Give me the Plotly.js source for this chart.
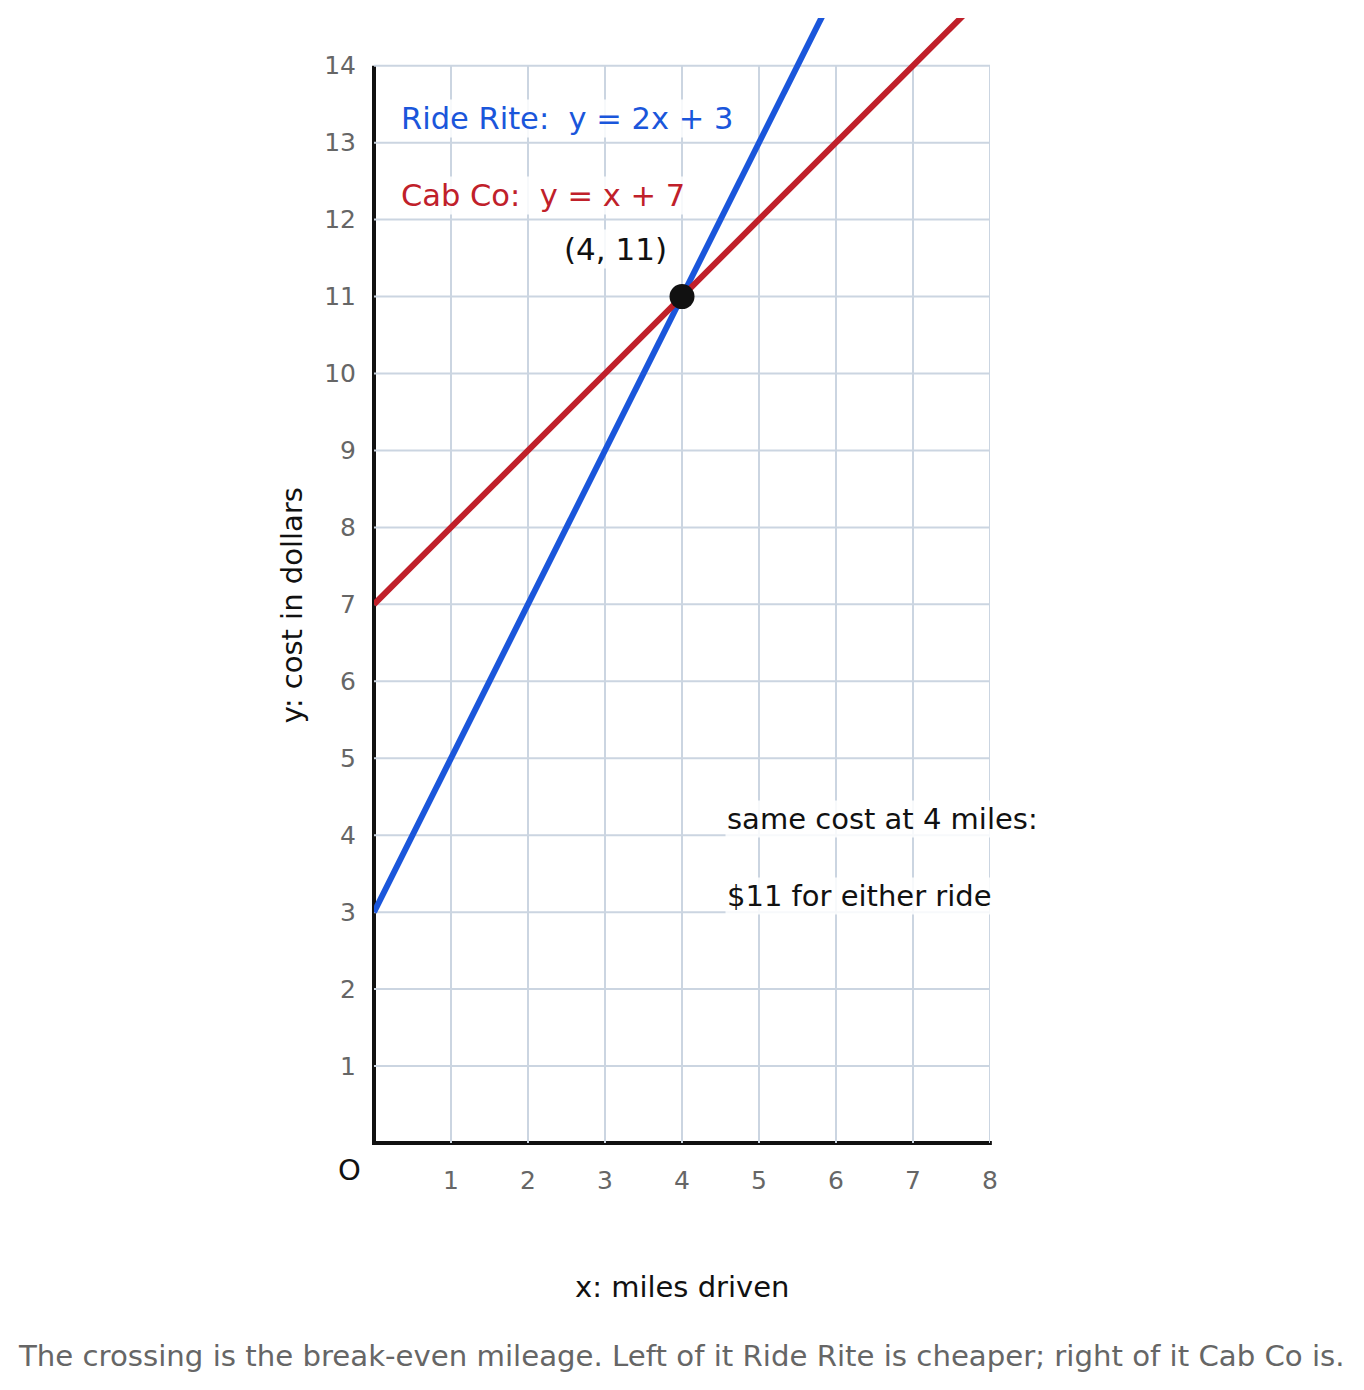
<!DOCTYPE html>
<html>
<head>
<meta charset="utf-8">
<script src="https://cdn.plot.ly/plotly-3.0.1.min.js"></script>
<style>html,body{margin:0;padding:0;background:#fff;}</style>
</head>
<body>
<div id="chart" style="width:1364px;height:1390px;"></div>
<script>
// Data
const rideRiteX = [0, 6];
const rideRiteY = [3, 15];      // y = 2x + 3
const cabCoX = [0, 8];
const cabCoY = [7, 15];         // y = x + 7
const crossX = [4];
const crossY = [11];
const xTicks = [1, 2, 3, 4, 5, 6, 7, 8];
const yTicks = [1, 2, 3, 4, 5, 6, 7, 8, 9, 10, 11, 12, 13, 14];
const xMax = 8, yMax = 14, yTop = 14.62;

const FONT = 'DejaVu Sans, sans-serif';
const BLUE = '#1a56db';
const RED = '#c0202a';
const GRID = '#cbd5e1';
const NB = '\u00a0';

const shapes = [];
xTicks.forEach(v => shapes.push({type:'line', xref:'x', yref:'y', x0:v, x1:v, y0:0, y1:yMax, line:{color:GRID, width:2}, layer:'below'}));
yTicks.forEach(v => shapes.push({type:'line', xref:'x', yref:'y', x0:0, x1:xMax, y0:v, y1:v, line:{color:GRID, width:2}, layer:'below'}));
// axis lines (paper refs so they are not clipped)
shapes.push({type:'line', xref:'paper', yref:'paper', x0:-0.003, x1:1.003, y0:0, y1:0, line:{color:'#111', width:4}, layer:'below'});
shapes.push({type:'line', xref:'paper', yref:'paper', x0:0, x1:0, y0:-0.0018, y1:yMax / yTop, line:{color:'#111', width:4}, layer:'below'});

const traces = [
  {x: rideRiteX, y: rideRiteY, mode:'lines', line:{color:BLUE, width:6}, hoverinfo:'skip'},
  {x: cabCoX, y: cabCoY, mode:'lines', line:{color:RED, width:6}, hoverinfo:'skip'},
  {x: crossX, y: crossY, mode:'markers', marker:{color:'#111', size:25}, hoverinfo:'skip', cliponaxis:false}
];

const bg = 'rgba(255,255,255,0.85)';
const F = 29, FL = 30.5, FP = 31;
const annotations = [
  {xref:'x', yref:'y', x:0.33, y:13.31, xanchor:'left', yanchor:'middle', text:'Ride Rite:' + NB + NB + 'y = 2x + 3', showarrow:false, font:{family:FONT, size:FL, color:BLUE}, bgcolor:bg, borderpad:1},
  {xref:'x', yref:'y', x:0.33, y:12.31, xanchor:'left', yanchor:'middle', text:'Cab Co:' + NB + NB + 'y = x + 7', showarrow:false, font:{family:FONT, size:FL, color:RED}, bgcolor:bg, borderpad:1},
  {xref:'x', yref:'y', x:3.14, y:11.62, xanchor:'center', yanchor:'middle', text:'(4, 11)', showarrow:false, font:{family:FONT, size:FP, color:'#111'}, bgcolor:bg, borderpad:1},
  {xref:'x', yref:'y', x:4.56, y:4.21, xanchor:'left', yanchor:'middle', text:'same cost at 4 miles:', showarrow:false, font:{family:FONT, size:F, color:'#111'}, bgcolor:bg, borderpad:1},
  {xref:'x', yref:'y', x:4.56, y:3.21, xanchor:'left', yanchor:'middle', text:'$11 for either ride', showarrow:false, font:{family:FONT, size:F, color:'#111'}, bgcolor:bg, borderpad:1},
  {xref:'paper', yref:'paper', x:-0.039, y:-0.024, xanchor:'center', yanchor:'middle', text:'O', showarrow:false, font:{family:FONT, size:F, color:'#111'}},
  {xref:'paper', yref:'paper', x:0.5, y:-0.128, xanchor:'center', yanchor:'middle', text:'x: miles driven', showarrow:false, font:{family:FONT, size:F, color:'#111'}},
  {xref:'paper', yref:'paper', x:-0.133, y:0.478, xanchor:'center', yanchor:'middle', textangle:-90, text:'y: cost in dollars', showarrow:false, font:{family:FONT, size:F, color:'#111'}},
  {xref:'paper', yref:'paper', x:0.4985, y:-0.189, xanchor:'center', yanchor:'middle', text:'The crossing is the break-even mileage. Left of it Ride Rite is cheaper; right of it Cab Co is.', showarrow:false, font:{family:FONT, size:29.2, color:'#666'}}
];

const layout = {
  width:1364, height:1390,
  margin:{l:374, r:374, t:18, b:247, pad:0},
  paper_bgcolor:'#fff', plot_bgcolor:'#fff',
  showlegend:false,
  xaxis:{range:[0, xMax], showgrid:false, zeroline:false, showline:false,
         tickvals:xTicks, ticks:'outside', ticklen:15, tickcolor:'rgba(0,0,0,0)',
         tickfont:{family:FONT, size:25, color:'#666'}, fixedrange:true},
  yaxis:{range:[0, yTop], showgrid:false, zeroline:false, showline:false,
         tickvals:yTicks, ticks:'outside', ticklen:12, tickcolor:'rgba(0,0,0,0)',
         tickfont:{family:FONT, size:25, color:'#666'}, fixedrange:true},
  shapes:shapes,
  annotations:annotations
};

Plotly.newPlot('chart', traces, layout, {displayModeBar:false, staticPlot:true});
</script>
</body>
</html>
